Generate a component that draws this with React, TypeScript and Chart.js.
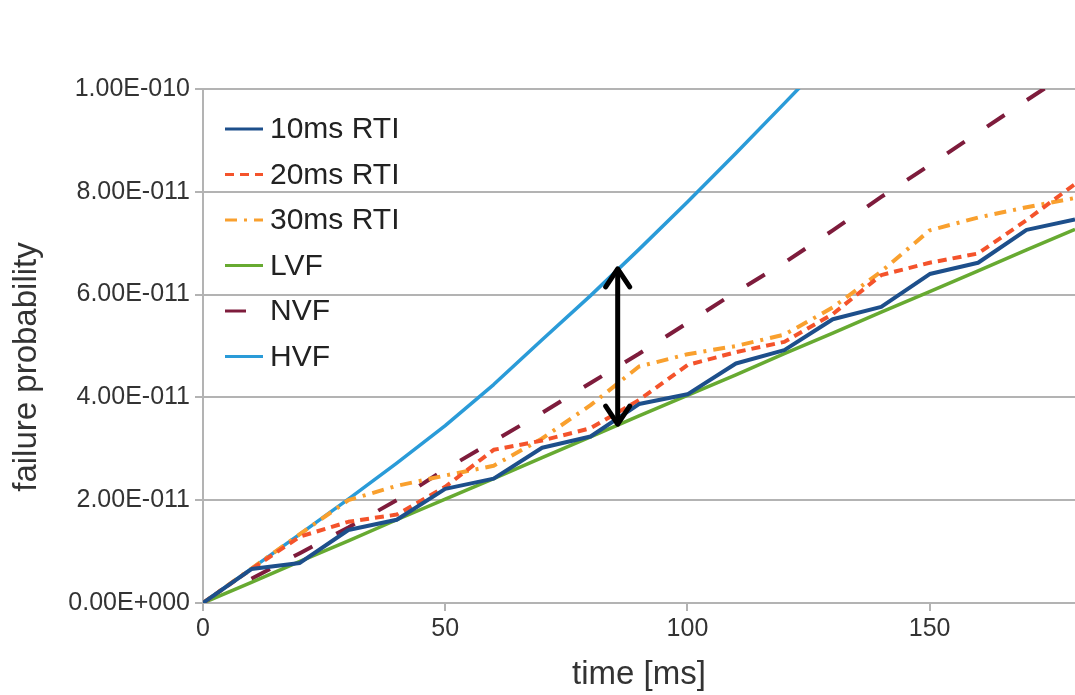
import React, { useEffect, useRef } from 'react';
import { Chart, registerables } from 'chart.js';

Chart.register(...registerables);

// time axis [ms]
const TIME_MS = [0, 10, 20, 30, 40, 50, 60, 70, 80, 90, 100, 110, 120, 130, 140, 150, 160, 170, 180];

// failure probability, in units of 1e-11
const RTI_10MS = [0, 0.66, 0.78, 1.42, 1.62, 2.22, 2.42, 3.02, 3.24, 3.87, 4.06, 4.66, 4.92, 5.52, 5.76, 6.4, 6.62, 7.26, 7.46];
const RTI_20MS = [0, 0.66, 1.29, 1.58, 1.72, 2.26, 2.98, 3.16, 3.4, 3.95, 4.63, 4.88, 5.08, 5.62, 6.38, 6.62, 6.8, 7.45, 8.15];
const RTI_30MS = [0, 0.67, 1.34, 2.0, 2.28, 2.48, 2.67, 3.2, 3.85, 4.6, 4.84, 5.0, 5.22, 5.75, 6.45, 7.25, 7.5, 7.7, 7.88];
const LVF = [0, 0.4, 0.81, 1.21, 1.62, 2.02, 2.42, 2.83, 3.23, 3.64, 4.04, 4.44, 4.85, 5.25, 5.66, 6.06, 6.46, 6.87, 7.27];
const NVF = [null, 0.47, 0.97, 1.47, 2.0, 2.6, 3.15, 3.7, 4.28, 4.85, 5.45, 6.05, 6.62, 7.25, 7.9, 8.52, 9.15, 9.78, 10.4];
const HVF = [0, 0.67, 1.34, 2.02, 2.72, 3.45, 4.25, 5.12, 5.98, 6.88, 7.8, 8.75, 9.72, 10.7, 11.7, null, null, null, null];

const SERIES_LABELS = ['10ms RTI', '20ms RTI', '30ms RTI', 'LVF', 'NVF', 'HVF'];
const SERIES_VALUES = [RTI_10MS, RTI_20MS, RTI_30MS, LVF, NVF, HVF];
const SERIES_COLORS = ['#1d4f8b', '#f4532b', '#f9a02e', '#67aa31', '#7e1c3c', '#2a9bd8'];
const SERIES_DASHES = [[], [9, 6], [12, 7, 3, 7], [], [21, 27], []];
const SERIES_WIDTHS = [4, 4, 4, 3.5, 4, 3.5];

const UNIT = 1e-11;
const X_MIN = 0;
const X_MAX = 180;
const X_STEP = 50;
const Y_MIN = 0;
const Y_MAX = 10;
const Y_STEP = 2;

// double-headed arrow between HVF and LVF
const ARROW_X = 85.6;
const ARROW_LOW = 3.46;
const ARROW_HIGH = 6.52;

const X_TITLE = 'time [ms]';
const Y_TITLE = 'failure probability';

const FONT = "'Liberation Sans', Arial, Helvetica, sans-serif";

function formatExp(v: number): string {
  if (Math.abs(v) < 1e-9) return '0.00E+000';
  const s = (v * UNIT).toExponential(2);
  const [m, e] = s.split('e');
  const sign = e[0] === '-' ? '-' : '+';
  const digits = e.replace(/[+-]/, '').padStart(3, '0');
  return `${m}E${sign}${digits}`;
}

const overlayPlugin = {
  id: 'overlay',
  afterDatasetsDraw(chart: any) {
    const { ctx, chartArea, scales } = chart;
    const xs = scales.x;
    const ys = scales.y;
    ctx.save();
    // arrow
    const ax = xs.getPixelForValue(ARROW_X);
    const yTop = ys.getPixelForValue(ARROW_HIGH);
    const yBot = ys.getPixelForValue(ARROW_LOW);
    ctx.strokeStyle = '#000';
    ctx.lineWidth = 5;
    ctx.lineCap = 'round';
    ctx.lineJoin = 'round';
    ctx.setLineDash([]);
    ctx.beginPath();
    ctx.moveTo(ax, yTop + 2);
    ctx.lineTo(ax, yBot - 2);
    ctx.stroke();
    ctx.beginPath();
    ctx.moveTo(ax - 12, yTop + 19);
    ctx.lineTo(ax, yTop + 1);
    ctx.lineTo(ax + 12, yTop + 19);
    ctx.stroke();
    ctx.beginPath();
    ctx.moveTo(ax - 12, yBot - 19);
    ctx.lineTo(ax, yBot - 1);
    ctx.lineTo(ax + 12, yBot - 19);
    ctx.stroke();

    // legend
    const left = chartArea.left + 22;
    const lineLen = 38;
    const textX = left + 45;
    const y0 = chartArea.top + 40;
    const gap = 45.5;
    ctx.font = `30px ${FONT}`;
    ctx.textBaseline = 'middle';
    ctx.textAlign = 'left';
    chart.data.datasets.forEach((ds: any, i: number) => {
      const yy = y0 + i * gap;
      ctx.strokeStyle = ds.borderColor;
      ctx.lineWidth = 3;
      ctx.lineCap = 'butt';
      ctx.setLineDash(ds.borderDash || []);
      ctx.beginPath();
      ctx.moveTo(left, yy);
      ctx.lineTo(left + lineLen, yy);
      ctx.stroke();
      ctx.setLineDash([]);
      ctx.fillStyle = '#222';
      ctx.fillText(ds.label, textX, yy + 1);
    });

    // y title
    ctx.save();
    ctx.translate(27, (chartArea.top + chartArea.bottom) / 2 + 21);
    ctx.rotate(-Math.PI / 2);
    ctx.font = `33px ${FONT}`;
    ctx.fillStyle = '#333';
    ctx.textAlign = 'center';
    ctx.textBaseline = 'middle';
    ctx.fillText(Y_TITLE, 0, 0);
    ctx.restore();

    ctx.restore();
  },
};

export default function App() {
  const canvasRef = useRef<HTMLCanvasElement | null>(null);

  useEffect(() => {
    if (!canvasRef.current) return;
    const datasets = SERIES_LABELS.map((label, i) => ({
      label,
      data: TIME_MS.map((t, j) => ({ x: t, y: SERIES_VALUES[i][j] })),
      borderColor: SERIES_COLORS[i],
      backgroundColor: SERIES_COLORS[i],
      borderWidth: SERIES_WIDTHS[i],
      borderDash: SERIES_DASHES[i],
      borderCapStyle: 'butt',
      borderJoinStyle: 'round',
      pointRadius: 0,
      pointHoverRadius: 0,
      tension: 0,
      fill: false,
      spanGaps: false,
    }));

    const chart = new Chart(canvasRef.current, {
      type: 'line',
      data: { datasets } as any,
      options: {
        animation: false,
        responsive: false,
        events: [],
        layout: { padding: { top: 89, right: 0, bottom: 0, left: 0 } },
        plugins: {
          legend: { display: false },
          tooltip: { enabled: false },
        },
        scales: {
          x: {
            type: 'linear',
            min: X_MIN,
            max: X_MAX,
            afterBuildTicks: (scale: any) => {
              scale.ticks = scale.ticks.filter((t: any) => Math.abs(t.value % X_STEP) < 1e-6);
            },
            afterFit: (scale: any) => {
              scale.height = 92;
            },
            ticks: {
              stepSize: X_STEP,
              color: '#333',
              font: { family: FONT, size: 25 },
              padding: 3,
              maxRotation: 0,
            },
            grid: {
              drawOnChartArea: false,
              drawTicks: true,
              tickLength: 8,
              color: '#b3b3b3',
              lineWidth: 2,
            },
            border: { display: true, color: '#b3b3b3', width: 2 },
            title: {
              display: true,
              text: X_TITLE,
              color: '#333',
              font: { family: FONT, size: 33 },
              padding: { top: 0, bottom: 0 },
            },
          },
          y: {
            type: 'linear',
            min: Y_MIN,
            max: Y_MAX,
            afterFit: (scale: any) => {
              scale.width = 203;
            },
            ticks: {
              stepSize: Y_STEP,
              color: '#333',
              font: { family: FONT, size: 25 },
              padding: 5,
              callback: (v: any) => formatExp(Number(v)),
            },
            grid: {
              drawTicks: true,
              tickLength: 8,
              color: '#b3b3b3',
              lineWidth: 2,
            },
            border: { display: true, color: '#b3b3b3', width: 2 },
          },
        },
      } as any,
      plugins: [overlayPlugin],
    });
    return () => chart.destroy();
  }, []);

  return (
    <div style={{ position: 'absolute', left: 0, top: 0, width: 1075, height: 695, background: '#fff' }}>
      <canvas ref={canvasRef} width={1075} height={695} />
    </div>
  );
}
